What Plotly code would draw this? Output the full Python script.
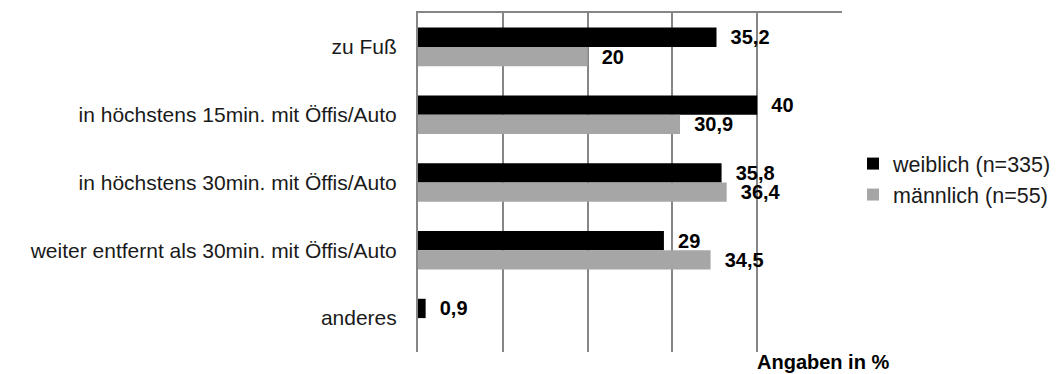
import plotly.graph_objects as go

# Kategorien von oben nach unten
categories = [
    "zu Fuß",
    "in höchstens 15min. mit Öffis/Auto",
    "in höchstens 30min. mit Öffis/Auto",
    "weiter entfernt als 30min. mit Öffis/Auto",
    "anderes",
]
weiblich = [35.2, 40, 35.8, 29, 0.9]
maennlich = [20, 30.9, 36.4, 34.5, None]
x_ticks = [0, 10, 20, 30, 40, 50]

BLACK = "#000000"
GREY = "#a6a6a6"
GRID = "#868686"
FONT = "Liberation Sans, Arial, sans-serif"
PAD = "\u00a0\u00a0"


def _label(v):
    if v is None:
        return ""
    return PAD + f"{v:g}".replace(".", ",")


fig = go.Figure()
for name, values, color in [
    ("weiblich (n=335)", weiblich, BLACK),
    ("männlich (n=55)", maennlich, GREY),
]:
    fig.add_bar(
        y=categories,
        x=values,
        name=name,
        orientation="h",
        marker={"color": color, "line": {"width": 0}},
        text=[_label(v) for v in values],
        textposition="outside",
        textfont={"family": FONT, "size": 20, "color": "#000000", "weight": "bold"},
        constraintext="none",
        cliponaxis=False,
    )

# the page body keeps an 8px margin, so the figure is 8px smaller than the window
fig.update_layout(
    width=1055,
    height=366,
    barmode="group",
    bargap=0.43,
    bargroupgap=0,
    plot_bgcolor="white",
    paper_bgcolor="white",
    margin={"l": 410, "r": 221, "t": 5, "b": 22},
    font={"family": FONT, "size": 21, "color": "#1a1a1a"},
    showlegend=True,
    legend={
        "x": 1.026,
        "y": 0.51,
        "xanchor": "left",
        "yanchor": "middle",
        "font": {"family": FONT, "size": 21.5, "color": "#1a1a1a"},
        "bgcolor": "rgba(0,0,0,0)",
        "itemwidth": 30,
        "borderwidth": 0,
    },
    xaxis={
        "range": [x_ticks[0], x_ticks[-1]],
        "tickvals": x_ticks,
        "showticklabels": False,
        "showgrid": True,
        "gridcolor": GRID,
        "gridwidth": 2,
        "zeroline": False,
        "side": "top",
        "showline": True,
        "linecolor": GRID,
        "linewidth": 2,
        "ticks": "",
        "fixedrange": True,
    },
    yaxis={
        "autorange": "reversed",
        "showline": True,
        "linecolor": GRID,
        "linewidth": 2,
        "showgrid": False,
        "ticks": "",
        "ticklabelstandoff": 15,
        "tickfont": {"family": FONT, "size": 21, "color": "#1a1a1a"},
    },
)

fig.add_annotation(
    text="<b>Angaben in %</b>",
    xref="paper",
    yref="paper",
    x=0.795,
    y=-0.03,
    xanchor="left",
    yanchor="middle",
    showarrow=False,
    font={"family": FONT, "size": 20, "color": "#000000"},
)

fig.write_html("out.html")
